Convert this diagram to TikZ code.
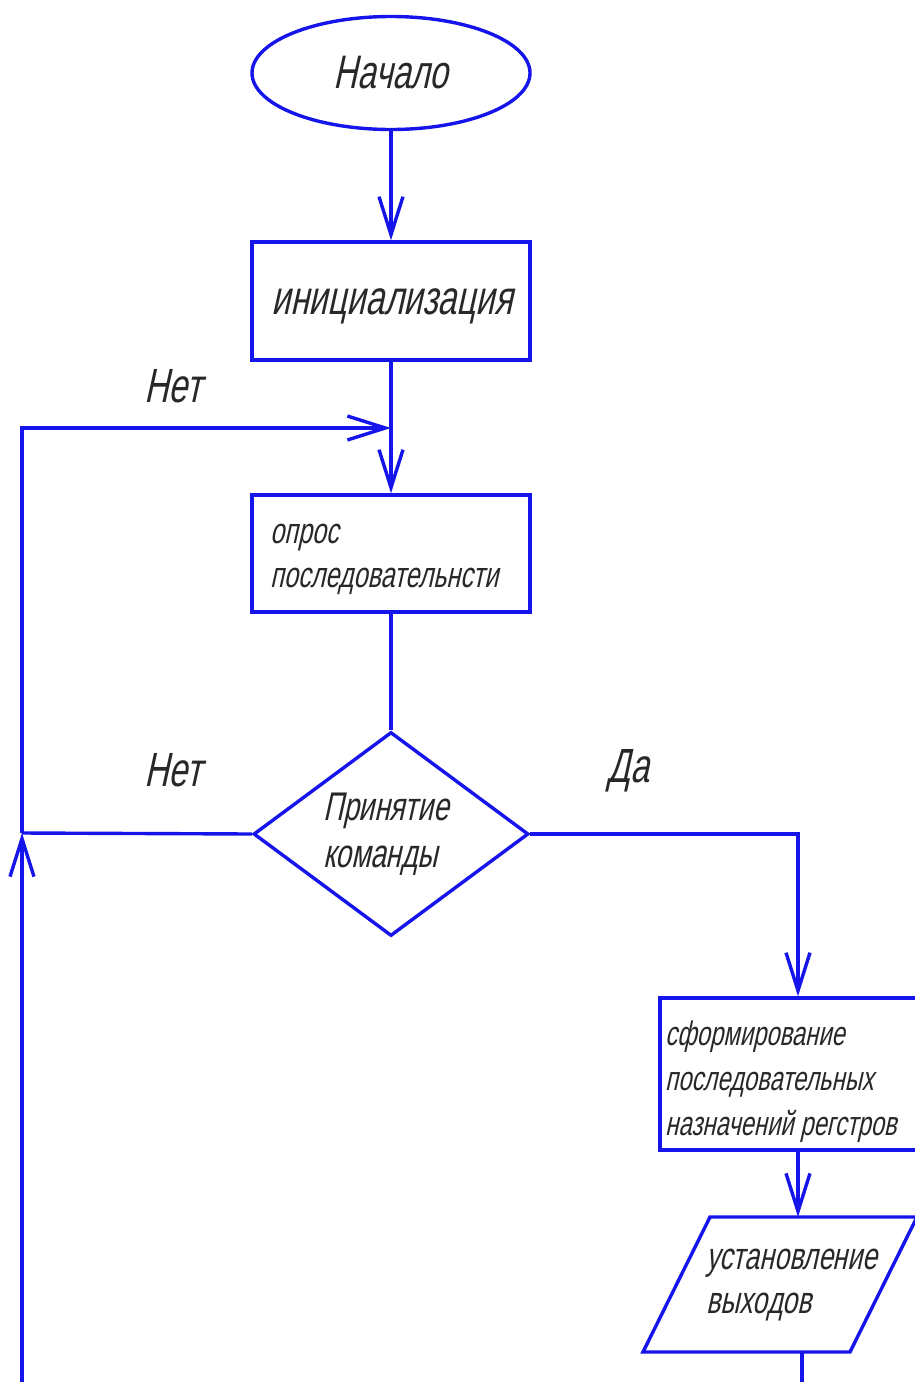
\documentclass[tikz,border=0pt]{standalone}
\usepackage{fontspec}
\setmainfont{Liberation Sans}
\newfontfamily\gost{Liberation Sans}[FakeSlant=0.22,FakeStretch=0.7]
\usetikzlibrary{shapes.geometric,arrows.meta}
\definecolor{fc}{RGB}{20,20,235}
\definecolor{tc}{RGB}{40,40,40}
\begin{document}
\begin{tikzpicture}[x=1pt,y=-1pt,
  flow/.style={draw=fc, line width=3.4pt},
  arr/.style={flow, -{Straight Barb[length=38pt,width=24pt,line width=3.4pt]}},
  txt/.style={text=tc, inner sep=0pt},
  box/.style={draw=fc, line width=3.4pt, rectangle, inner sep=0pt},
]
\useasboundingbox (0,0) rectangle (914,1382);
% start
\node[draw=fc, line width=3.4pt, ellipse, minimum width=278pt, minimum height=113pt, inner sep=0pt, text=tc,
      font=\gost\fontsize{47}{50}\selectfont] (start) at (391,73) {Начало};
% init
\node[box, minimum width=278pt, minimum height=118pt] (init) at (391,301) {};
\node[txt, font=\gost\fontsize{48}{52}\selectfont] (inittext) at (392,306) {инициализация};
% poll
\node[box, minimum width=278pt, minimum height=117pt] (poll) at (391,553.5) {};
\node[txt, anchor=west, align=left, font=\gost\fontsize{36}{44}\selectfont] (polltext) at (270,559.5) {опрос\\последовательнсти};
% decision
\node[draw=fc, line width=3.4pt, diamond, minimum width=275pt, minimum height=204pt, inner sep=0pt] (dec) at (391,834) {};
\node[txt, align=left, font=\gost\fontsize{40}{47}\selectfont] (dectext) at (386,834) {Принятие\\команды};
% form
\node[box, minimum width=276pt, minimum height=152pt] (form) at (798,1074) {};
\node[txt, anchor=west, align=left, font=\gost\fontsize{34}{45}\selectfont] (formtext) at (665,1082) {сформирование\\последовательных\\назначений регстров};
% parallelogram
\coordinate (pTL) at (710,1217);
\coordinate (pTR) at (917,1217);
\coordinate (pBR) at (850,1352);
\coordinate (pBL) at (643,1352);
\draw[flow, line join=miter] (pTL) -- (pTR) -- (pBR) -- (pBL) -- cycle;
\node[txt, align=left, font=\gost\fontsize{38}{44}\selectfont] (out) at (792,1285) {установление\\выходов};
\coordinate (ptop) at (798,1217);
\coordinate (pbot) at (802,1352);
\coordinate (pend) at (802,1382);
% loop coordinates
\coordinate (j1) at (22,833);
\coordinate (bot) at (22,1382);
\coordinate (tl) at (22,428);
\coordinate (m) at (391,428);
% labels
\node[txt, font=\gost\fontsize{48}{52}\selectfont] (no1) at (173,386) {Нет};
\node[txt, font=\gost\fontsize{48}{52}\selectfont] (no2) at (173,770) {Нет};
\node[txt, font=\gost\fontsize{48}{52}\selectfont] (yes) at (628,771) {Да};
% connectors
\draw[arr] (start) -- (init);
\draw[arr] (init) -- (poll);
\draw[flow] (poll) -- (dec);
\draw[flow] (dec.west) -- (j1);
\draw[arr] (bot) -- (j1);
\draw[arr, line join=miter] (j1) -- (tl) -- (m);
\draw[arr] (dec.east) -| (form.north);
\draw[arr] (form) -- (ptop);
\draw[flow] (pbot) -- (pend);
\end{tikzpicture}
\end{document}
